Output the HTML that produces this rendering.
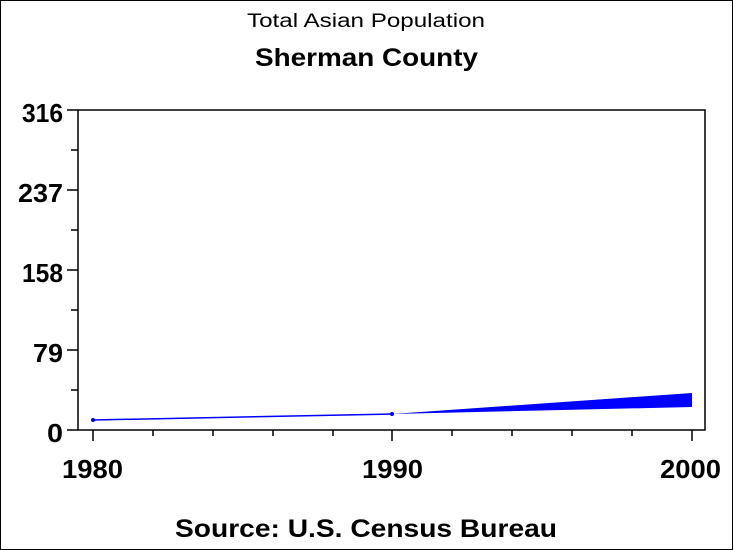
<!DOCTYPE html>
<html><head><style>body{margin:0}svg{display:block}</style></head><body>
<svg width="733" height="550" xmlns="http://www.w3.org/2000/svg" font-family="Liberation Sans, Arial, sans-serif">
<rect x="0" y="0" width="733" height="550" fill="#fff"/>
<rect x="0.5" y="0.5" width="732" height="549" fill="none" stroke="#000"/>
<text x="247" y="27" font-size="19" textLength="238" lengthAdjust="spacingAndGlyphs">Total Asian Population</text>
<text x="255" y="66" font-size="25" font-weight="bold" textLength="223" lengthAdjust="spacingAndGlyphs">Sherman County</text>
<text x="175" y="537" font-size="25" font-weight="bold" textLength="382" lengthAdjust="spacingAndGlyphs">Source: U.S. Census Bureau</text>
<g stroke="#000" stroke-width="1.5" fill="none">
<path d="M78,110 H705 V430 H78 Z"/>
<path d="M67,110H78M71,150H78M67,190H78M71,230H78M67,270H78M71,310H78M67,350H78M71,390H78M67,430H78"/>
<path d="M93,430V441M153,430V436M213,430V436M273,430V436M333,430V436M392,430V441M452,430V436M512,430V436M572,430V436M632,430V436M692,430V441"/>
</g>
<g font-size="26" font-weight="bold" lengthAdjust="spacingAndGlyphs">
<text x="22" y="122" textLength="41" lengthAdjust="spacingAndGlyphs">316</text>
<text x="18" y="202" textLength="45" lengthAdjust="spacingAndGlyphs">237</text>
<text x="22" y="282" textLength="41" lengthAdjust="spacingAndGlyphs">158</text>
<text x="33" y="362" textLength="30" lengthAdjust="spacingAndGlyphs">79</text>
<text x="47" y="442" textLength="16" lengthAdjust="spacingAndGlyphs">0</text>
<text x="62" y="478" textLength="61" lengthAdjust="spacingAndGlyphs">1980</text>
<text x="362" y="478" textLength="61" lengthAdjust="spacingAndGlyphs">1990</text>
<text x="660" y="478" textLength="61" lengthAdjust="spacingAndGlyphs">2000</text>
</g>
<path d="M93,420 L392,414" stroke="#00f" stroke-width="1.5"/>
<path d="M392,414 L692,393 L692,407 Z" fill="#00f"/>
<circle cx="93" cy="420" r="2" fill="#00f"/>
<circle cx="392" cy="414" r="2" fill="#00f"/>
</svg>
</body></html>
